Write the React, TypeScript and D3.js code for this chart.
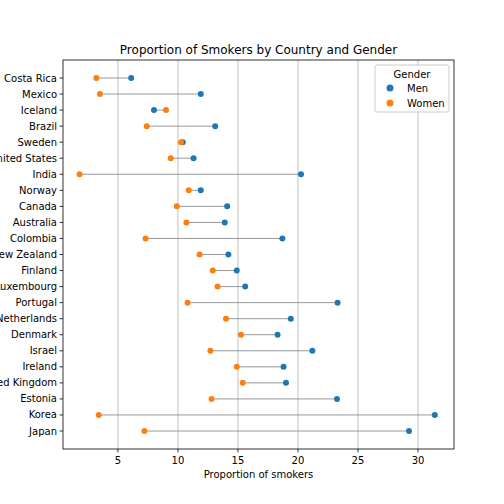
import React from "react";
import * as d3 from "d3";

const countries = ["Costa Rica","Mexico","Iceland","Brazil","Sweden","United States","India","Norway","Canada","Australia","Colombia","New Zealand","Finland","Luxembourg","Portugal","Netherlands","Denmark","Israel","Ireland","United Kingdom","Estonia","Korea","Japan"];
const men = [6.1,11.9,8.0,13.1,10.4,11.3,20.25,11.9,14.1,13.9,18.7,14.2,14.9,15.6,23.3,19.4,18.3,21.2,18.8,19.0,23.25,31.4,29.25];
const women = [3.2,3.5,9.0,7.4,10.25,9.4,1.8,10.9,9.9,10.7,7.3,11.8,12.9,13.3,10.8,14.0,15.25,12.7,14.9,15.4,12.8,3.4,7.2];
const xTicks = [5,10,15,20,25,30];

const BLUE = "#1f77b4", ORANGE = "#ff7f0e";

export default function App() {
  const L = 63, R = 454, T = 60, B = 449;
  const x = d3.scaleLinear().domain([0.42, 33]).range([L, R]);
  const y = d3.scalePoint<string>().domain(countries).range([78, 431]);
  const font = "DejaVu Sans, sans-serif";
  return (
    <svg width={504} height={504} style={{ position: "absolute", left: 0, top: 0, fontFamily: font }}>
      <rect width={504} height={504} fill="white" />
      {xTicks.map(t => (
        <g key={t}>
          <line x1={x(t)} x2={x(t)} y1={T} y2={B} stroke="#b0b0b0" strokeWidth={0.8} />
          <line x1={x(t)} x2={x(t)} y1={B} y2={B + 3.5} stroke="black" strokeWidth={0.8} />
          <text x={x(t)} y={B + 15} fontSize={10} textAnchor="middle">{t}</text>
        </g>
      ))}
      {countries.map((c, i) => (
        <g key={c}>
          <line x1={L - 3.5} x2={L} y1={y(c)} y2={y(c)} stroke="black" strokeWidth={0.8} />
          <text x={L - 6} y={y(c)! + 3.5} fontSize={10} textAnchor="end">{c}</text>
          <line x1={x(men[i])} x2={x(women[i])} y1={y(c)} y2={y(c)} stroke="#808080" strokeWidth={0.8} />
          <circle cx={x(men[i])} cy={y(c)} r={3} fill={BLUE} />
          <circle cx={x(women[i])} cy={y(c)} r={3} fill={ORANGE} />
        </g>
      ))}
      <rect x={L} y={T} width={R - L} height={B - T} fill="none" stroke="black" strokeWidth={0.8} />
      <text x={(L + R) / 2} y={54} fontSize={12} textAnchor="middle">Proportion of Smokers by Country and Gender</text>
      <text x={(L + R) / 2} y={478} fontSize={10} textAnchor="middle">Proportion of smokers</text>
      <g>
        <rect x={375} y={65} width={74} height={47} fill="white" stroke="#cccccc" rx={2} />
        <text x={412} y={78} fontSize={10} textAnchor="middle">Gender</text>
        <circle cx={390} cy={88} r={3.5} fill={BLUE} />
        <text x={407} y={91.5} fontSize={10}>Men</text>
        <circle cx={390} cy={103} r={3.5} fill={ORANGE} />
        <text x={407} y={106.5} fontSize={10}>Women</text>
      </g>
    </svg>
  );
}
